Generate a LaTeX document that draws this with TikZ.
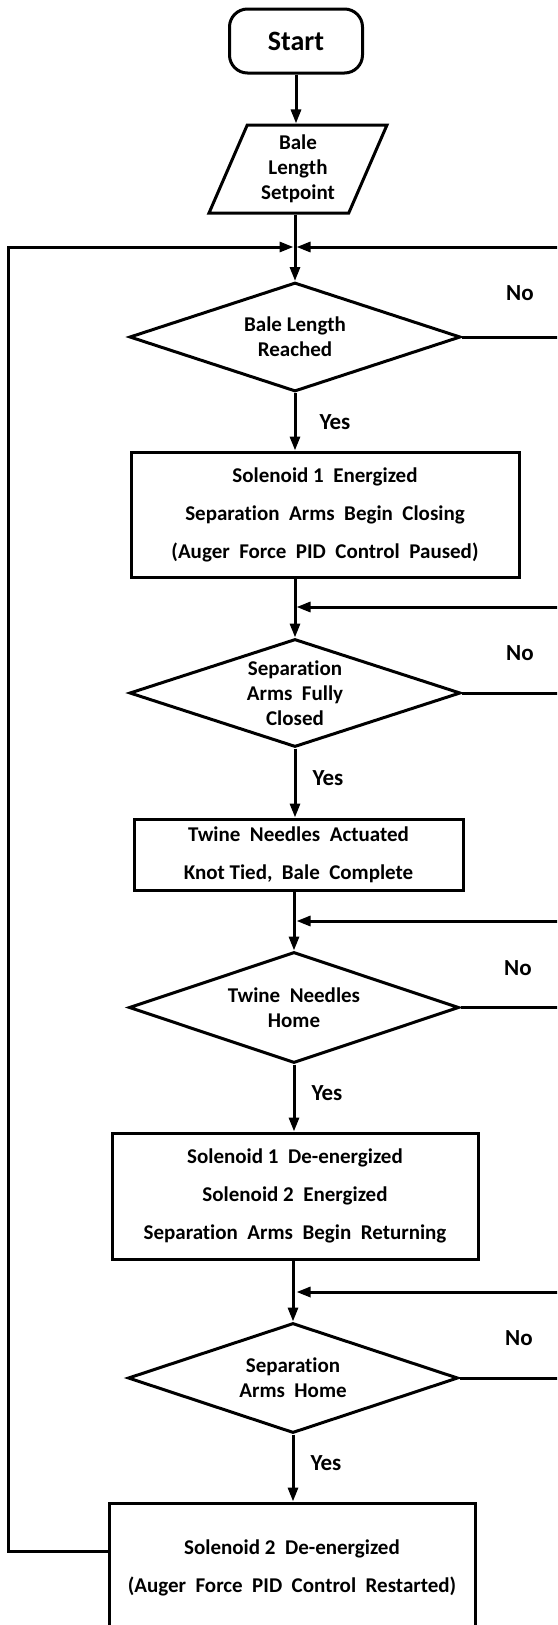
\documentclass[tikz,border=0pt]{standalone}
\usepackage{fontspec}
\setmainfont[Ligatures={NoCommon}]{Carlito}
\usetikzlibrary{shapes.geometric,arrows.meta}
\begin{document}
\begin{tikzpicture}[x=1pt,y=-1pt,
  line width=3pt,
  txt/.style={font=\bfseries\fontsize{21}{25}\selectfont, align=center},
  boxtxt/.style={font=\bfseries\fontsize{21}{38}\selectfont, align=center},
  procbox/.style={draw, rectangle, inner sep=0pt, boxtxt},
  decision/.style={draw, diamond, aspect=3.04, inner sep=0pt, txt},
  arr/.style={-{Triangle[length=14pt,width=10pt]}},
  lbl/.style={font=\bfseries\fontsize{23}{27}\selectfont, inner sep=0pt},
]
\useasboundingbox (0,0) rectangle (557,1625);
\clip (0,0) rectangle (557,1625);

\coordinate (col) at (295,0);
\coordinate (lft) at (8,0);
\coordinate (rgt) at (566,0);
\coordinate (j1) at (295,247);
\coordinate (j2) at (295,607);
\coordinate (j3) at (295,921);
\coordinate (j4) at (295,1292);

\node[draw, rounded corners=18pt, minimum width=133pt, minimum height=64pt,
      font=\bfseries\fontsize{28}{32}\selectfont] (start) at (296,41) {Start};
\node[draw, trapezium, trapezium left angle=67.8, trapezium right angle=112.2,
      trapezium stretches=true, minimum width=178pt, minimum height=88pt,
      inner sep=0pt, txt] (setp) at (298,169) {Bale\\Length\\Setpoint};

\node[decision, minimum width=331pt, minimum height=109pt] (d1) at (295,337) {Bale Length\\Reached};
\node[procbox, minimum width=388pt, minimum height=125pt] (b1) at (325,514.5)
  {Solenoid 1~~Energized\\Separation~~Arms~~Begin~~Closing\\(Auger~~Force~~PID~~Control~~Paused)};
\node[decision, minimum width=331pt, minimum height=108pt] (d2) at (295,693) {Separation\\Arms~~Fully\\Closed};
\node[procbox, minimum width=329pt, minimum height=71pt] (b2) at (298.5,854.5)
  {Twine~~Needles~~Actuated\\Knot Tied,~~Bale~~Complete};
\node[decision, minimum width=330pt, minimum height=111pt] (d3) at (294,1007.5) {Twine~~Needles\\Home};
\node[procbox, minimum width=366pt, minimum height=126pt] (b3) at (295,1196)
  {Solenoid 1~~De-energized\\Solenoid 2~~Energized\\Separation~~Arms~~Begin~~Returning};
\node[decision, minimum width=330pt, minimum height=110pt] (d4) at (293,1378) {Separation\\Arms~~Home};
\node[procbox, minimum width=366pt, minimum height=130pt] (b4) at (292,1568)
  {Solenoid 2~~De-energized\\(Auger~~Force~~PID~~Control~~Restarted)};

% main flow
\draw[arr] (start.south) -- (start.south |- setp.north);
\draw[arr] (setp.south -| col) -- (d1.north);
\draw[arr] (d1.south) -- (d1.south |- b1.north);
\draw[arr] (b1.south -| d2.north) -- (d2.north);
\draw[arr] (d2.south) -- (d2.south |- b2.north);
\draw[arr] (d3.north |- b2.south) -- (d3.north);
\draw[arr] (d3.south) -- (d3.south |- b3.north);
\draw[arr] (d4.north |- b3.south) -- (d4.north);
\draw[arr] (d4.south) -- (d4.south |- b4.north);

% loops
\draw[arr] ([yshift=17pt]b4.west) -| (lft |- j1) -- ([xshift=-1.5pt]j1);
\draw[arr] (d1.east) -| (rgt |- j1) -- ([xshift=1.5pt]j1);
\draw[arr] (d2.east) -| (rgt |- j2) -- ([xshift=1.5pt]j2);
\draw[arr] (d3.east) -| (rgt |- j3) -- ([xshift=1.5pt]j3);
\draw[arr] (d4.east) -| (rgt |- j4) -- ([xshift=1.5pt]j4);

% labels
\node[lbl] (no1) at (520,293) {No};
\node[lbl] (no2) at (520,653) {No};
\node[lbl] (no3) at (518,968) {No};
\node[lbl] (no4) at (519,1338) {No};
\node[lbl, anchor=west] (yes1) at (318,422) {Yes};
\node[lbl, anchor=west] (yes2) at (311,778) {Yes};
\node[lbl, anchor=west] (yes3) at (310,1093) {Yes};
\node[lbl, anchor=west] (yes4) at (309,1463) {Yes};
\end{tikzpicture}
\end{document}
